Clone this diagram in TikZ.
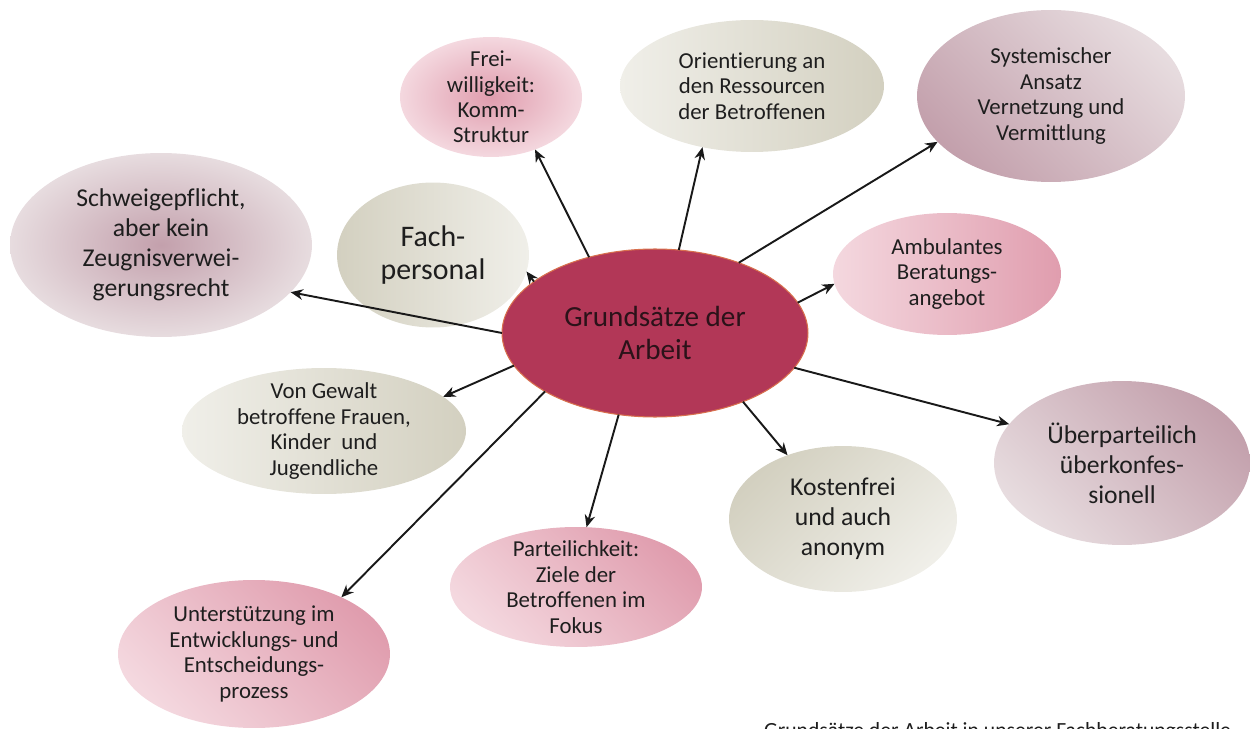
\documentclass[tikz,border=0pt]{standalone}
\usepackage{fontspec}
\setmainfont{Carlito}[Ligatures=NoCommon]
\usetikzlibrary{arrows.meta, shapes.geometric}
\definecolor{kern}{HTML}{B23757}
\definecolor{kernrand}{HTML}{D8704E}
\definecolor{kerntext}{HTML}{2B1219}
\definecolor{pinkD}{HTML}{E09DAE}
\definecolor{pinkL}{HTML}{F4D8DF}
\definecolor{beigeD}{HTML}{D3D0C0}
\definecolor{beigeL}{HTML}{F0EFE9}
\definecolor{mauveD}{HTML}{C3A0AC}
\definecolor{mauveL}{HTML}{E7DCDF}
\definecolor{ink}{HTML}{1E1E1E}

\begin{document}
\begin{tikzpicture}[
  x=0.02cm, y=-0.02cm,
  bubble/.style={ellipse, inner sep=-0.6cm, outer sep=0pt, align=center,
    text=ink, font=\fontsize{13}{14.5}\selectfont},
  gross/.style={font=\fontsize{14.6}{17}\selectfont},
  rosa/.style={bubble, left color=pinkL, right color=pinkD},
  rosarad/.style={bubble, inner color=pinkD, outer color=pinkL},
  beige/.style={bubble, left color=beigeL, right color=beigeD},
  mauve/.style={bubble, left color=mauveL, right color=mauveD},
  mauverad/.style={bubble, inner color=mauveD, outer color=mauveL},
  kernblase/.style={ellipse, inner sep=-0.6cm, outer sep=0pt, align=center,
    fill=kern, draw=kernrand, line width=0.6pt, text=kerntext,
    font=\fontsize{16.6}{18.5}\selectfont},
  arr/.style={-{Stealth[length=7pt, width=6pt]}, line width=1.1pt, black!90},
]
\useasboundingbox (0,0) rectangle (1250,729);
\clip (0,0) rectangle (1250,729);

% centre
\node[kernblase, minimum width=6.12cm, minimum height=3.36cm] (grund)
  at (655,333) {Grundsätze der\\Arbeit};

% upper row
\node[rosarad, minimum width=3.64cm, minimum height=2.4cm] (frei)
  at (491,97) {Frei-\\willigkeit:\\Komm-\\Struktur};
\node[beige, minimum width=5.28cm, minimum height=2.64cm] (orient)
  at (752,86) {Orientierung an\\den Ressourcen\\der Betroffenen};
\node[mauve, left color=mauveD, right color=mauveL, shading angle=135,
  minimum width=5.36cm, minimum height=3.44cm] (system)
  at (1051,96) {Systemischer\\Ansatz\\Vernetzung und\\Vermittlung};

% left side
\node[mauverad, gross, minimum width=6.04cm, minimum height=3.68cm] (schweige)
  at (161,245) {Schweigepflicht,\\aber kein\\Zeugnisverwei-\\gerungsrecht};
\node[beige, left color=beigeD, right color=beigeL,
  font=\fontsize{17}{19}\selectfont,
  minimum width=3.84cm, minimum height=2.9cm] (fach)
  at (433,255) {Fach-\\personal};
\node[beige, minimum width=5.68cm, minimum height=2.52cm] (gewalt)
  at (324,431) {Von Gewalt\\betroffene Frauen,\\Kinder~ und\\Jugendliche};
\node[rosa, shading angle=135, minimum width=5.44cm, minimum height=2.96cm] (unterst)
  at (254,654) {Unterstützung im\\Entwicklungs- und\\Entscheidungs-\\prozess};

% right side
\node[rosa, minimum width=4.56cm, minimum height=2.44cm] (ambul)
  at (947,274) {Ambulantes\\Beratungs-\\angebot};
\node[mauve, gross, shading angle=135, minimum width=5.12cm, minimum height=3.28cm] (ueber)
  at (1122,463) {Überparteilich\\überkonfes-\\sionell};
\node[beige, gross, left color=beigeD, right color=beigeL, shading angle=45,
  minimum width=4.56cm, minimum height=2.92cm] (kosten)
  at (843,519) {Kostenfrei\\und auch\\anonym};
\node[rosa, shading angle=135, minimum width=5.04cm, minimum height=2.4cm] (parteil)
  at (576,587) {Parteilichkeit:\\Ziele der\\Betroffenen im\\Fokus};

% arrows
\draw[arr] (grund.131) -- (frei.-50);
\draw[arr] (grund.74) -- (orient.231);
\draw[arr] (grund.40) -- (system.202);
\draw[arr] (grund.180) -- (schweige.-20);
\draw[arr] (grund.157) -- (fach.-10);
\draw[arr] (grund.12) -- (ambul.185);
\draw[arr] (grund.193) -- (gewalt.16);
\draw[arr] (grund.-14) -- (ueber.161);
\draw[arr] (grund.-38) -- (kosten.131);
\draw[arr] (grund.246) -- (parteil.80);
\draw[arr] (grund.208) -- (unterst.33);

\node[anchor=base west, text=ink, font=\fontsize{12.3}{14}\selectfont] (titel)
  at (758,737) {Grundsätze der Arbeit in unserer Fachberatungsstelle};
\end{tikzpicture}
\end{document}
